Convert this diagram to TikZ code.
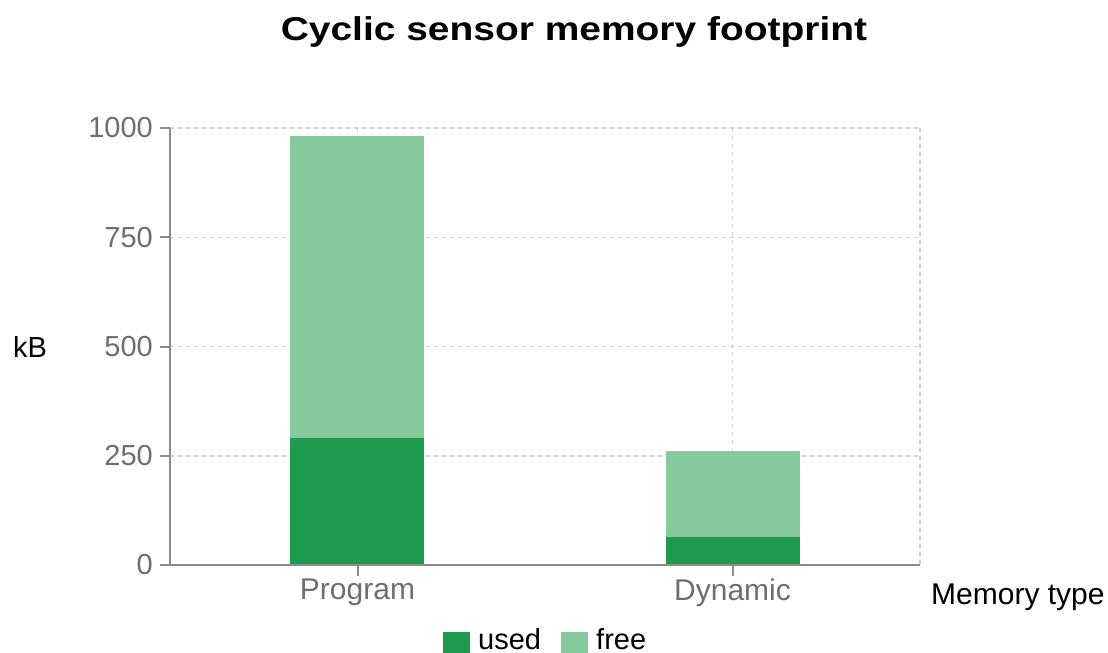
\documentclass[tikz,border=0pt]{standalone}
\usepackage{fontspec}
\setmainfont{Liberation Sans}
\newfontfamily\titlefont[FakeStretch=1.18]{Liberation Sans Bold}
\definecolor{usedgreen}{HTML}{1E9A4F}
\definecolor{freegreen}{HTML}{85C99D}
\definecolor{axisgray}{HTML}{8C8C8C}
\definecolor{gridgray}{HTML}{D2D2D2}
\definecolor{ticktext}{HTML}{6E6E6E}
\begin{document}
\begin{tikzpicture}[x=1pt,y=-1pt,
  gridline/.style={gridgray,line width=1.5pt,dash pattern=on 4pt off 4pt},
  axisline/.style={axisgray,line width=2pt},
  ticklabel/.style={text=ticktext,font=\fontsize{29}{33}\selectfont,inner sep=0pt},
  catlabel/.style={text=ticktext,font=\fontsize{30}{34}\selectfont,inner sep=0pt},
  axistitle/.style={text=black,font=\fontsize{29}{33}\selectfont,inner sep=0pt},
  usedbar/.style={fill=usedgreen,draw=none},
  freebar/.style={fill=freegreen,draw=none},
  legendkey/.style={minimum width=27pt,minimum height=21pt,inner sep=0pt,draw=none}
]
\useasboundingbox (0,0) rectangle (1108,653);

% title
\node[inner sep=0pt,font=\titlefont\fontsize{33}{37}\selectfont] (title) at (574,32) {Cyclic sensor memory footprint};

% grid: value v sits at y = 565 - 0.437 v
\foreach \yy in {128,237.25,346.5,455.75}
  \draw[gridline] (170,\yy) -- (920,\yy);
\foreach \xx in {357.5,732.5,920}
  \draw[gridline] (\xx,128) -- (\xx,565);

% stacked bars
\fill[usedbar] (290,565) rectangle (424,437.7);
\fill[freebar] (290,437.7) rectangle (424,136);
\fill[usedbar] (665.5,565) rectangle (799.5,536.7);
\fill[freebar] (665.5,536.7) rectangle (799.5,451);

% axes
\coordinate (origin) at (170,565);
\coordinate (ytop) at (170,128);
\coordinate (xend) at (920,565);
\draw[axisline] (ytop) -- (origin) -- (xend);

% y ticks and labels
\foreach \yy/\lab/\nm in {128/1000/ya,237.25/750/yb,346.5/500/yc,455.75/250/yd,565/0/ye}{
  \draw[axisline] (160,\yy) -- (170,\yy);
  \node[ticklabel,anchor=east] (\nm) at (153,\yy) {\lab};
}

% x ticks and labels
\draw[axisline] (357.5,565) -- (357.5,576);
\draw[axisline] (732.5,565) -- (732.5,576);
\node[catlabel,anchor=north] (prog) at (357.5,579) {Program};
\node[catlabel,anchor=north] (dyn) at (732.5,579) {Dynamic};

% axis titles
\node[axistitle,anchor=west] (ylab) at (13,346.5) {kB};
\node[catlabel,text=black,anchor=west] (xlab) at (931,597) {Memory type};

% legend
\node[legendkey,fill=usedgreen,anchor=north west] (kused) at (443,632) {};
\node[axistitle,anchor=base west] (tused) at (478,649) {used};
\node[legendkey,fill=freegreen,anchor=north west] (kfree) at (561,632) {};
\node[axistitle,anchor=base west] (tfree) at (596,649) {free};
\end{tikzpicture}
\end{document}
